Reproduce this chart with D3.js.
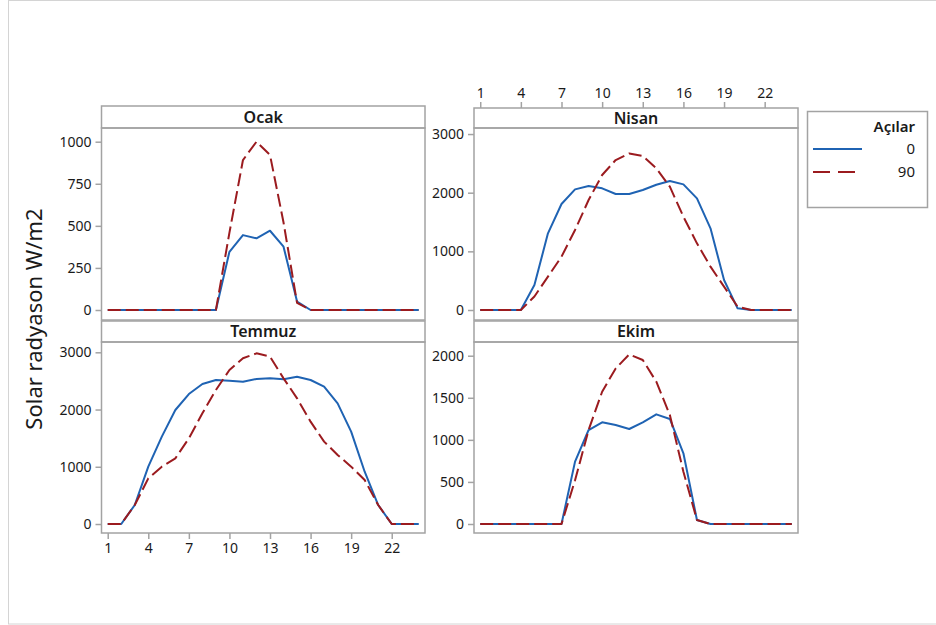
<!DOCTYPE html>
<html>
<head>
  <meta charset="utf-8">
  <script src="https://cdn.jsdelivr.net/npm/d3@7"></script>
  <style>
    body { margin: 0; background: #fff; }
    text { font-family: "Noto Sans", "DejaVu Sans", sans-serif; fill: #1a1a1a; }
  </style>
</head>
<body>
<script>
  // hours of the day (x categories)
  var hours = [1,2,3,4,5,6,7,8,9,10,11,12,13,14,15,16,17,18,19,20,21,22,23,24];
  var hourTicks = [1,4,7,10,13,16,19,22];

  // series per month, angle 0 and angle 90
  var ocak0   = [0,0,0,0,0,0,0,0,0,346,445,426,471,376,50,0,0,0,0,0,0,0,0,0];
  var ocak90  = [0,0,0,0,0,0,0,0,0,460,891,1000,921,520,42,0,0,0,0,0,0,0,0,0];
  var nisan0  = [0,0,0,0,426,1307,1807,2057,2114,2074,1977,1977,2045,2136,2199,2142,1903,1392,511,28,0,0,0,0];
  var nisan90 = [0,0,0,0,230,568,909,1364,1875,2301,2557,2670,2625,2415,2102,1591,1136,739,398,57,0,0,0,0];
  var temmuz0  = [0,0,332,1002,1526,1992,2271,2446,2516,2504,2487,2534,2545,2528,2574,2516,2400,2108,1613,914,332,0,0,0];
  var temmuz90 = [0,0,332,798,1002,1147,1497,1934,2341,2691,2895,2982,2924,2545,2196,1788,1439,1206,1002,769,332,0,0,0];
  var ekim0  = [0,0,0,0,0,0,0,741,1117,1208,1176,1129,1208,1303,1248,840,48,0,0,0,0,0,0,0];
  var ekim90 = [0,0,0,0,0,0,0,520,1117,1572,1849,2016,1949,1691,1295,622,48,0,0,0,0,0,0,0];

  var legendTitle = "Açılar";
  var legendLabels = ["0", "90"];
  var yTitle = "Solar radyason W/m2";

  var blue = "#1f63b3", red = "#9b1b1f", frame = "#a3a3a3";

  var svg = d3.select("body").append("svg")
      .attr("width", 936).attr("height", 625);

  // outer light frame
  svg.append("rect")
      .attr("x", 8.5).attr("y", 0.5).attr("width", 940).attr("height", 623.5)
      .style("fill", "none").style("stroke", "#d4d4d4");

  var panels = [
    { name: "Ocak",   s0: ocak0,   s90: ocak90,   x0: 101.5, x1: 425, top: 106, hb: 128, bottom: 320,
      yDom: [-59.4, 1081.4], yTicks: [0,250,500,750,1000], xAxis: null },
    { name: "Nisan",  s0: nisan0,  s90: nisan90,  x0: 474, x1: 798, top: 108, hb: 128, bottom: 320,
      yDom: [-170.5, 3103], yTicks: [0,1000,2000,3000], xAxis: "top" },
    { name: "Temmuz", s0: temmuz0, s90: temmuz90, x0: 101.5, x1: 425, top: 321, hb: 342, bottom: 533,
      yDom: [-157, 3180], yTicks: [0,1000,2000,3000], xAxis: "bottom" },
    { name: "Ekim",   s0: ekim0,   s90: ekim90,   x0: 474, x1: 798, top: 321, hb: 342, bottom: 533,
      yDom: [-107, 2163], yTicks: [0,500,1000,1500,2000], xAxis: null }
  ];

  panels.forEach(function (p) {
    var g = svg.append("g");
    var x = d3.scaleLinear().domain([0.54, 24.46]).range([p.x0, p.x1]);
    var y = d3.scaleLinear().domain(p.yDom).range([p.bottom, p.hb]);

    // header strip
    g.append("rect")
        .attr("x", p.x0).attr("y", p.top)
        .attr("width", p.x1 - p.x0).attr("height", p.hb - p.top)
        .style("fill", "#fff").style("stroke", frame).style("stroke-width", 1.5);
    g.append("text")
        .attr("x", (p.x0 + p.x1) / 2).attr("y", (p.top + p.hb) / 2)
        .attr("dy", "0.36em")
        .attr("text-anchor", "middle")
        .style("font-size", "16px").style("font-weight", "600")
        .text(p.name);

    // plot frame
    g.append("rect")
        .attr("x", p.x0).attr("y", p.hb)
        .attr("width", p.x1 - p.x0).attr("height", p.bottom - p.hb)
        .style("fill", "none").style("stroke", frame).style("stroke-width", 1.5);

    // y axis
    var ya = g.append("g")
        .attr("transform", "translate(" + p.x0 + ",0)")
        .call(d3.axisLeft(y).tickValues(p.yTicks).tickFormat(d3.format("d"))
              .tickSize(6).tickPadding(4));
    ya.select(".domain").remove();
    ya.selectAll("line").style("stroke", frame).style("stroke-width", 1.5);
    ya.selectAll("text").style("font-size", "14px").style("font-family", null);

    // x axis (only on one panel per column)
    if (p.xAxis) {
      var axis = p.xAxis === "bottom" ? d3.axisBottom(x) : d3.axisTop(x);
      var xa = g.append("g")
          .attr("transform", "translate(0," + (p.xAxis === "bottom" ? p.bottom : p.top) + ")")
          .call(axis.tickValues(hourTicks).tickFormat(d3.format("d")).tickSize(6).tickPadding(4));
      xa.select(".domain").remove();
      xa.selectAll("line").style("stroke", frame).style("stroke-width", 1.5);
      xa.selectAll("text").style("font-size", "14px").style("font-family", null);
    }

    var line = d3.line()
        .x(function (d, i) { return x(hours[i]); })
        .y(function (d) { return y(d); });

    g.append("path")
        .datum(p.s0)
        .attr("d", line)
        .style("fill", "none").style("stroke", blue).style("stroke-width", 2)
        .style("stroke-linejoin", "round");
    g.append("path")
        .datum(p.s90)
        .attr("d", line)
        .style("fill", "none").style("stroke", red).style("stroke-width", 2)
        .style("stroke-dasharray", "13,5")
        .style("stroke-linejoin", "round");
  });

  // y axis title
  svg.append("text")
      .attr("transform", "translate(42,319) rotate(-90)")
      .attr("text-anchor", "middle")
      .style("font-size", "22px")
      .text(yTitle);

  // legend
  var lg = svg.append("g");
  lg.append("rect")
      .attr("x", 807.5).attr("y", 111.5).attr("width", 120).attr("height", 96)
      .style("fill", "#fff").style("stroke", frame).style("stroke-width", 1.5);
  lg.append("text")
      .attr("x", 915).attr("y", 127).attr("dy", "0.36em")
      .attr("text-anchor", "end")
      .style("font-size", "15px").style("font-weight", "600")
      .text(legendTitle);
  var colors = [blue, red], dashes = [null, "17,8"], ly = [149, 172];
  legendLabels.forEach(function (lab, i) {
    lg.append("line")
        .attr("x1", 813).attr("x2", i === 0 ? 862 : 857)
        .attr("y1", ly[i]).attr("y2", ly[i])
        .style("stroke", colors[i]).style("stroke-width", 2)
        .style("stroke-dasharray", dashes[i]);
    lg.append("text")
        .attr("x", 915).attr("y", ly[i]).attr("dy", "0.36em")
        .attr("text-anchor", "end")
        .style("font-size", "15px")
        .text(lab);
  });
</script>
</body>
</html>
